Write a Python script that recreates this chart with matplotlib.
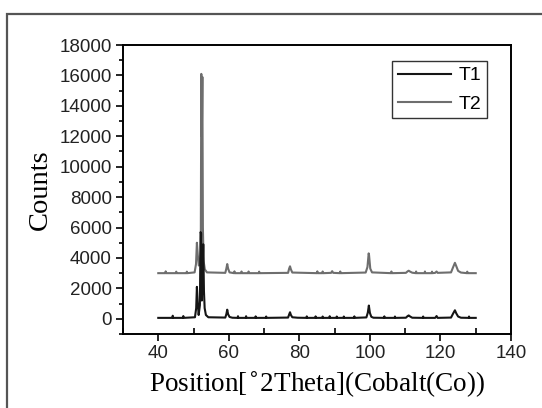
import matplotlib
matplotlib.use('Agg')
import matplotlib.pyplot as plt
from matplotlib.patches import Rectangle
from matplotlib.ticker import MultipleLocator

# T1 pattern
t1_pos = [40.0, 44.0, 44.1, 44.2, 47.0, 47.1, 47.2, 50.4, 50.75, 50.95, 51.15, 51.45, 51.8, 52.0,
          52.15, 52.35, 52.55, 52.75, 52.95, 53.15, 53.5, 54.2, 59.0, 59.3, 59.55, 59.8, 60.2, 61.0,
          62.5, 62.6, 62.7, 64.8, 64.9, 65.0, 67.5, 67.6, 67.7, 70.5, 70.6, 70.7, 76.8, 77.1, 77.35,
          77.6, 78.0, 79.5, 82.0, 82.1, 82.2, 84.5, 84.6, 84.7, 86.5, 86.6, 86.7, 88.5, 88.6, 88.7,
          90.5, 90.6, 90.7, 92.5, 92.6, 92.7, 95.5, 95.6, 95.7, 99.0, 99.4, 99.7, 100.0, 100.4, 101.0,
          104.0, 104.1, 104.2, 107.0, 107.1, 107.2, 110.2, 110.7, 111.0, 111.4, 112.0, 115.0, 115.1,
          115.2, 118.5, 118.9, 119.2, 123.0, 123.6, 124.1, 124.5, 125.0, 125.8, 128.0, 128.1, 128.2,
          130.0]
t1_counts = [60, 60, 200, 60, 60, 180, 60, 100, 700, 2100, 1200, 250, 900, 5700,
             5600, 1200, 3000, 4900, 1800, 700, 250, 100, 80, 300, 600, 300, 120, 70,
             60, 170, 60, 60, 170, 60, 60, 160, 60, 60, 150, 60, 80, 280, 430,
             250, 100, 70, 60, 160, 60, 60, 160, 60, 60, 150, 60, 60, 170, 60,
             60, 150, 60, 60, 150, 60, 60, 160, 60, 90, 400, 870, 380, 130, 70,
             60, 160, 60, 60, 150, 60, 70, 180, 220, 150, 70, 60, 150,
             60, 60, 180, 60, 80, 350, 560, 350, 150, 70, 60, 150, 60,
             60]

# T2 pattern
t2_pos = [40.0, 42.0, 42.1, 42.2, 45.0, 45.1, 45.2, 48.0, 48.1, 48.2, 50.3, 50.7, 50.95, 51.2,
          51.5, 51.8, 52.05, 52.2, 52.35, 52.5, 52.65, 52.85, 53.2, 53.8, 59.0, 59.3, 59.55, 59.8,
          60.2, 61.5, 61.6, 61.7, 63.5, 63.6, 63.7, 65.5, 65.6, 65.7, 68.5, 68.6, 68.7, 76.8, 77.1,
          77.35, 77.6, 78.0, 85.0, 85.1, 85.2, 86.5, 86.6, 86.7, 89.0, 89.3, 89.6, 91.5, 91.6, 91.7,
          98.8, 99.3, 99.65, 99.75, 100.1, 100.6, 106.0, 106.1, 106.2, 110.2, 110.7, 111.0, 111.4,
          112.0, 113.0, 113.1, 113.2, 115.5, 115.6, 115.7, 117.5, 117.6, 117.7, 118.5, 118.9, 119.2,
          123.0, 123.6, 124.1, 124.5, 125.0, 125.8, 127.5, 127.6, 127.7, 130.0]
t2_counts = [3000, 3000, 3120, 3000, 3000, 3100, 3000, 3000, 3100, 3000, 3050, 3600, 5000, 4200,
             3500, 3700, 4500, 16100, 12000, 15900, 6000, 3800, 3250, 3050, 3020, 3300, 3600, 3300,
             3050, 3000, 3120, 3000, 3000, 3110, 3000, 3000, 3110, 3000, 3000, 3100, 3000, 3020, 3300,
             3450, 3250, 3040, 3000, 3120, 3000, 3000, 3110, 3000, 3020, 3130, 3020, 3000, 3110, 3000,
             3040, 3400, 4300, 4200, 3300, 3050, 3000, 3110, 3000, 3020, 3120, 3160, 3100,
             3030, 3000, 3110, 3000, 3000, 3110, 3000, 3000, 3100, 3000, 3020, 3110, 3020,
             3050, 3400, 3680, 3450, 3150, 3040, 3000, 3100, 3000, 3000]

x_ticks = [40, 60, 80, 100, 120, 140]
y_ticks = list(range(0, 18001, 2000))

fig = plt.figure(figsize=(5.42, 4.08), dpi=100)
ax = fig.add_axes([123/542, 1 - 334/408, (511-123)/542, (334-45)/408])

# outer frame of the original figure
fig.patches.append(Rectangle((7/542, -0.1), 1.2, 1.1 - 14/408, transform=fig.transFigure,
                             fill=False, edgecolor='#555555', linewidth=1.6))

ln2, = ax.plot(t2_pos, t2_counts, color='#6e6e6e', lw=1.5, label='T2')
ln1, = ax.plot(t1_pos, t1_counts, color='#151515', lw=1.5, label='T1')

ax.set_xlim(30, 140)
ax.set_ylim(-1000, 18000)
ax.set_xticks(x_ticks)
ax.set_yticks(y_ticks)
ax.xaxis.set_minor_locator(MultipleLocator(10))
ax.yaxis.set_minor_locator(MultipleLocator(1000))

ax.tick_params(axis='both', which='major', direction='out', length=5, width=1.2,
               labelsize=13.5, pad=3)
ax.tick_params(axis='x', which='minor', direction='in', length=4, width=1.2)
ax.tick_params(axis='y', which='minor', direction='out', length=3, width=1.2)
for lab in ax.get_xticklabels() + ax.get_yticklabels():
    lab.set_family('Liberation Sans')
    lab.set_color('#222222')

for sp in ax.spines.values():
    sp.set_linewidth(1.4)

ax.set_xlabel('Position[$^{\\circ}$2Theta](Cobalt(Co))', family='Liberation Serif',
              fontsize=19.5, labelpad=5)
ax.set_ylabel('Counts', family='Liberation Serif', fontsize=20.5, labelpad=5)

leg = ax.legend([ln1, ln2], ['T1', 'T2'], loc='upper right', bbox_to_anchor=(0.938, 0.945),
                prop={'family': 'Liberation Sans', 'size': 14}, frameon=True, fancybox=False,
                handlelength=2.7, handletextpad=0.4, labelspacing=0.55, borderpad=0.3,
                borderaxespad=0)
leg.get_frame().set_edgecolor('black')
leg.get_frame().set_linewidth(1.0)

fig.savefig('out.png', dpi=100)
